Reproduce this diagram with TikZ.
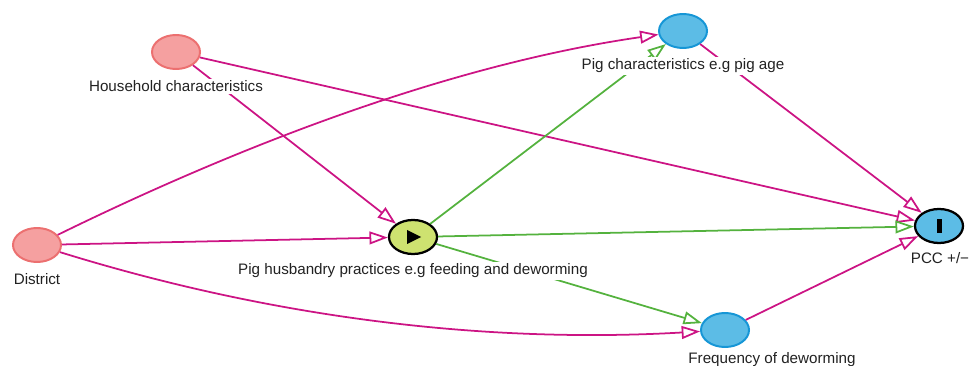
\documentclass[tikz,border=0pt]{standalone}
\usepackage{fontspec}
\setmainfont{Liberation Sans}
\usepackage{tikz}
\usetikzlibrary{shapes.geometric, arrows.meta, positioning, calc}
\definecolor{edgepink}{RGB}{204,20,132}
\definecolor{edgegreen}{RGB}{84,178,62}
\definecolor{adjfill}{RGB}{245,160,160}
\definecolor{adjdraw}{RGB}{236,112,112}
\definecolor{ancfill}{RGB}{92,188,230}
\definecolor{ancdraw}{RGB}{22,150,214}
\definecolor{expfill}{RGB}{206,226,112}
\definecolor{labeltext}{RGB}{34,34,34}

\begin{document}
\begin{tikzpicture}[
    x=0.025cm, y=-0.025cm,
    var/.style={ellipse, draw, line width=1.4pt, minimum width=1.2cm, minimum height=0.85cm, inner sep=0pt},
    adjusted/.style={var, fill=adjfill, draw=adjdraw},
    ancestor/.style={var, fill=ancfill, draw=ancdraw},
    keyvar/.style={var, draw=black, line width=1.6pt},
    varlabel/.style={fill=white, inner sep=1.5pt, anchor=base, text=labeltext, font=\fontsize{10.8}{12}\selectfont},
    biasing/.style={-{Triangle[open, length=4.6mm, width=3.2mm]}, line width=1.25pt, edgepink},
    causal/.style={-{Triangle[open, length=4.6mm, width=3.2mm]}, line width=1.25pt, edgegreen}
]
    \useasboundingbox (0,0) rectangle (979,366);

    % Variables
    \node[adjusted] (house) at (176,52) {};
    \node[adjusted] (district) at (37,245) {};
    \node[ancestor] (pigchar) at (683,31) {};
    \node[ancestor] (freq) at (725,330) {};
    \node[keyvar, fill=expfill] (husb) at (413,237) {};
    \node[keyvar, fill=ancfill] (pcc) at (939,226) {};

    % Markers for exposure and outcome
    \fill ($(husb)+(-6,-7)$) -- ++(14,7) -- ++(-14,7) -- cycle;
    \fill ($(pcc)+(-2.5,-7)$) rectangle ++(5,14);

    % Biasing paths
    \draw[biasing] (house) -- (pcc);
    \draw[biasing] (house) -- (husb);
    \draw[biasing] (district) .. controls (276,128) and (475,61) .. (pigchar);
    \draw[biasing] (district) -- (husb);
    \draw[biasing] (district) .. controls (269,317) and (483,344) .. (freq);
    \draw[biasing] (pigchar) -- (pcc);
    \draw[biasing] (freq) -- (pcc);

    % Causal paths
    \draw[causal] (husb) -- (pigchar);
    \draw[causal] (husb) -- (pcc);
    \draw[causal] (husb) -- (freq);

    % Labels
    \node[varlabel] (houselbl) at (176,92) {Household characteristics};
    \node[varlabel] (districtlbl) at (37,285) {District};
    \node[varlabel] (pigcharlbl) at (683,70) {Pig characteristics e.g pig age};
    \node[varlabel] (husblbl) at (413,275) {Pig husbandry practices e.g feeding and deworming};
    \node[varlabel] (pcclbl) at (940,264) {PCC +/−};
    \node[varlabel] (freqlbl) at (772,363) {Frequency of deworming};
\end{tikzpicture}
\end{document}
